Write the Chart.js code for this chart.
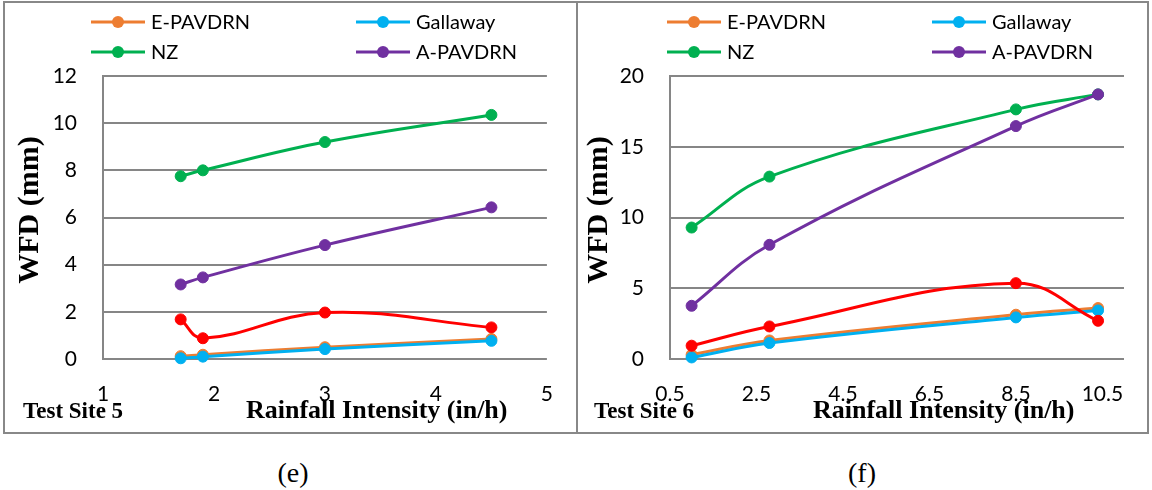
<!DOCTYPE html>
<html lang="en">
<head>
    <meta charset="UTF-8">
    <title>WFD vs Rainfall Intensity</title>
    <script src="https://cdn.jsdelivr.net/npm/chart.js"></script>
    <style>
        body {
            margin: 0;
            background: #fff;
            width: 1152px;
            height: 490px;
            position: relative;
            overflow: hidden;
        }
        .frame {
            position: absolute;
            left: 3px;
            top: 1px;
            width: 1142px;
            height: 429px;
            border: 2px solid #888;
        }
        .divider {
            position: absolute;
            left: 576px;
            top: 1px;
            width: 2px;
            height: 433px;
            background: #888;
        }
        canvas {
            position: absolute;
            top: 0;
        }
        .site, .xtitle {
            position: absolute;
            font-family: "Liberation Serif", serif;
            font-weight: bold;
            line-height: 1;
            white-space: nowrap;
            color: #000;
        }
        .site { font-size: 23px; top: 399px; }
        .xtitle { font-size: 26px; top: 397px; }
        .caption {
            position: absolute;
            top: 459px;
            width: 60px;
            text-align: center;
            font-family: "Liberation Serif", serif;
            font-size: 28px;
            line-height: 1;
        }
    </style>
</head>
<body>
    <div class="frame"></div>
    <div class="divider"></div>

    <canvas id="site5" width="576" height="440" style="left:0"></canvas>
    <canvas id="site6" width="576" height="440" style="left:576px"></canvas>

    <div class="site" style="left:23px">Test Site 5</div>
    <div class="xtitle" style="left:246px">Rainfall Intensity (in/h)</div>
    <div class="site" style="left:594px">Test Site 6</div>
    <div class="xtitle" style="left:813px">Rainfall Intensity (in/h)</div>

    <div class="caption" style="left:263px">(e)</div>
    <div class="caption" style="left:832px">(f)</div>

    <script>
        // Test site 5
        const intensity5 = [1.7, 1.9, 3, 4.5];
        const ePavdrn5 = [0.12, 0.18, 0.5, 0.85];
        const gallaway5 = [0.03, 0.1, 0.42, 0.77];
        const nz5 = [7.75, 8.0, 9.2, 10.35];
        const aPavdrn5 = [3.16, 3.46, 4.83, 6.43];
        const measured5 = [1.68, 0.88, 1.97, 1.34];
        const xTicks5 = [1, 2, 3, 4, 5];

        // Test site 6
        const intensity6 = [1.0, 2.8, 8.5, 10.4];
        const ePavdrn6 = [0.3, 1.31, 3.13, 3.6];
        const gallaway6 = [0.11, 1.13, 2.94, 3.43];
        const nz6 = [9.29, 12.89, 17.64, 18.7];
        const aPavdrn6 = [3.76, 8.07, 16.46, 18.7];
        const measured6 = [0.94, 2.3, 5.36, 2.7];
        const xTicks6 = [0.5, 2.5, 4.5, 6.5, 8.5, 10.5];

        // the last series (red) has no legend entry
        const seriesNames = ['E-PAVDRN', 'Gallaway', 'NZ', 'A-PAVDRN', ''];
        const seriesColors = ['#ED7D31', '#00B0F0', '#00B050', '#7030A0', '#FF0000'];

        const tickFont = { family: 'Lato', size: 21 };

        // two-column legend with line + marker symbols
        const pairLegend = {
            id: 'pairLegend',
            afterDraw(chart) {
                const ctx = chart.ctx;
                const cols = [91, 356];
                const rows = [22, 52];
                ctx.save();
                ctx.font = '20px Lato';
                ctx.textBaseline = 'middle';
                let n = 0;
                chart.data.datasets.forEach(ds => {
                    if (!ds.label) return;
                    const x = cols[n % 2];
                    const y = rows[Math.floor(n / 2)];
                    n++;
                    ctx.strokeStyle = ds.borderColor;
                    ctx.lineWidth = 3;
                    ctx.beginPath();
                    ctx.moveTo(x, y);
                    ctx.lineTo(x + 54, y);
                    ctx.stroke();
                    ctx.fillStyle = ds.borderColor;
                    ctx.beginPath();
                    ctx.arc(x + 27, y, 6, 0, Math.PI * 2);
                    ctx.fill();
                    ctx.fillStyle = '#000';
                    ctx.fillText(ds.label, x + 60, y + 1);
                });
                ctx.restore();
            }
        };

        function makeChart(id, xs, series, cfg) {
            const datasets = series.map((vals, i) => ({
                label: seriesNames[i],
                data: xs.map((x, k) => ({ x: x, y: vals[k] })),
                borderColor: seriesColors[i],
                backgroundColor: seriesColors[i],
                pointBackgroundColor: seriesColors[i],
                pointBorderColor: seriesColors[i],
                borderWidth: 3,
                pointRadius: 5.5,
                pointBorderWidth: 1,
                tension: 0.4,
                order: series.length - 1 - i,
                clip: false
            }));

            return new Chart(document.getElementById(id), {
                type: 'line',
                data: { datasets: datasets },
                plugins: [pairLegend],
                options: {
                    responsive: false,
                    animation: false,
                    layout: { padding: { left: 0, right: cfg.padRight, top: 76, bottom: 0 } },
                    plugins: {
                        legend: { display: false },
                        tooltip: { enabled: false }
                    },
                    scales: {
                        x: {
                            type: 'linear',
                            min: cfg.xMin,
                            max: cfg.xMax,
                            afterBuildTicks: s => { s.ticks = cfg.xTicks.map(v => ({ value: v })); },
                            afterFit: s => { s.height = 81; },
                            ticks: {
                                callback: v => String(v),
                                font: tickFont,
                                color: '#000',
                                padding: 23,
                                maxRotation: 0,
                                autoSkip: false
                            },
                            grid: { display: false, drawTicks: false },
                            border: { display: false }
                        },
                        y: {
                            min: 0,
                            max: cfg.yMax,
                            afterFit: s => { s.width = cfg.yWidth; },
                            ticks: {
                                stepSize: cfg.yStep,
                                font: tickFont,
                                color: '#000',
                                padding: 26
                            },
                            grid: { color: '#868686', lineWidth: 2, drawTicks: false },
                            border: { display: true, color: '#868686', width: 2 },
                            title: {
                                display: true,
                                // leading spaces nudge the rotated title up a little
                                text: '  WFD (mm)',
                                color: '#000',
                                font: { family: 'Liberation Serif', size: 30, weight: 'bold' },
                                padding: { top: cfg.titlePad }
                            }
                        }
                    }
                }
            });
        }

        makeChart('site5', intensity5,
            [ePavdrn5, gallaway5, nz5, aPavdrn5, measured5],
            { xMin: 1, xMax: 5, xTicks: xTicks5, yMax: 12, yStep: 2, yWidth: 103, padRight: 22, titlePad: 12 });

        makeChart('site6', intensity6,
            [ePavdrn6, gallaway6, nz6, aPavdrn6, measured6],
            { xMin: 0.5, xMax: 11, xTicks: xTicks6, yMax: 20, yStep: 5, yWidth: 94, padRight: 28, titlePad: 5 });
    </script>
</body>
</html>
